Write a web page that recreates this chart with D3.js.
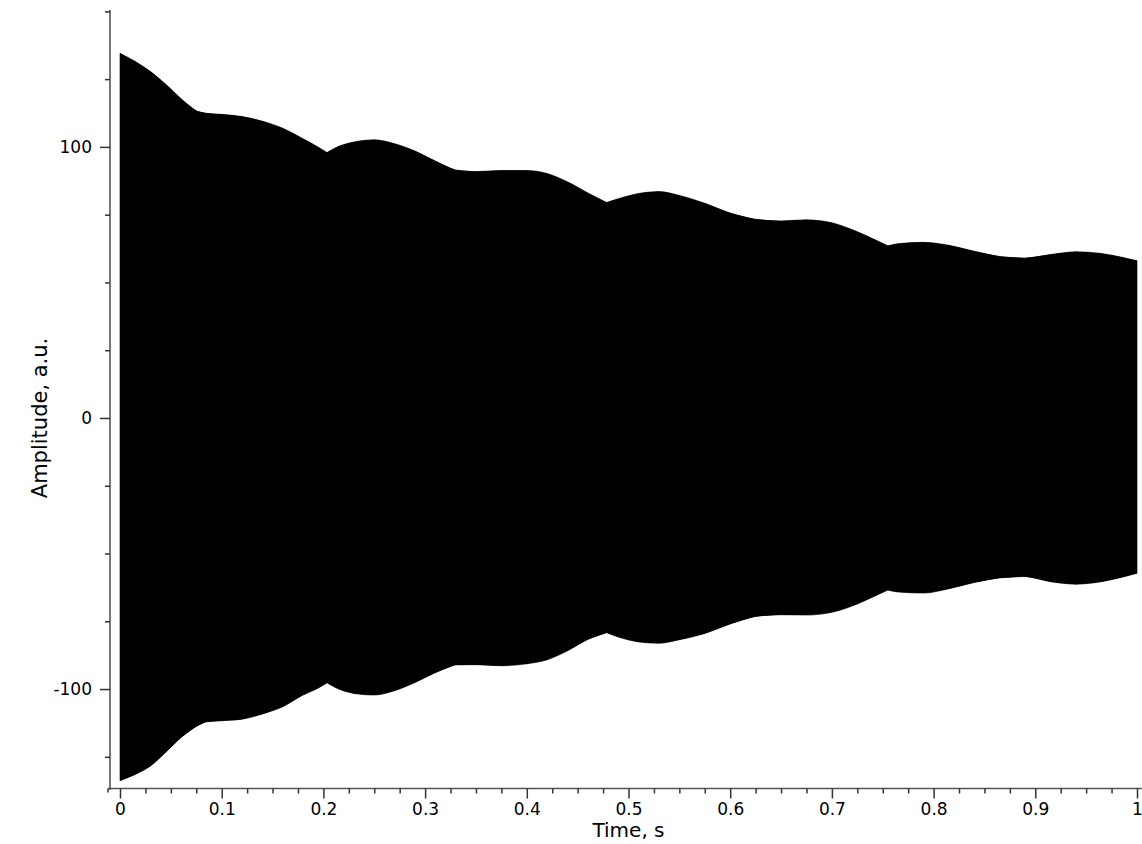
<!DOCTYPE html>
<html>
<head>
<meta charset="utf-8">
<script src="https://cdn.jsdelivr.net/npm/d3@7"></script>
<style>
  html, body { margin: 0; padding: 0; background: #fff; }
  svg { display: block; font-family: "DejaVu Sans", Verdana, sans-serif; }
</style>
</head>
<body>
<svg id="chart" width="1142" height="844"></svg>
<script>
// ---- Data ----
// Time grid (s)
const time = [0, 0.015, 0.03, 0.045, 0.06, 0.075, 0.085, 0.1, 0.12, 0.14, 0.16, 0.18, 0.195, 0.2035,
  0.215, 0.23, 0.25, 0.27, 0.29, 0.31, 0.33, 0.35, 0.375, 0.4, 0.42, 0.44, 0.46, 0.4785, 0.49, 0.51,
  0.53, 0.55, 0.575, 0.6, 0.625, 0.65, 0.675, 0.7, 0.725, 0.745, 0.755, 0.765, 0.79, 0.815, 0.84,
  0.865, 0.89, 0.915, 0.94, 0.965, 0.985, 1.0];
// Upper envelope of the oscillation (a.u.)
const upperEnvelope = [134.5, 131.5, 127.8, 123.1, 117.8, 113.3, 112.4, 112.0, 111.2, 109.5, 106.9, 103.0, 99.9, 97.9,
  100.2, 101.8, 102.6, 101.2, 98.5, 94.8, 91.5, 90.9, 91.3, 91.3, 90.2, 87.1, 83.0, 79.5, 80.9, 82.8,
  83.5, 82.1, 79.2, 75.6, 73.3, 72.7, 73.1, 72.0, 68.7, 65.3, 63.5, 64.3, 64.8, 63.7, 61.5,
  59.6, 59.0, 60.3, 61.3, 60.7, 59.3, 58.0];
// Lower envelope of the oscillation (a.u.)
const lowerEnvelope = [-133.8, -131.5, -128.4, -123.3, -117.9, -113.8, -112.1, -111.7, -111.1, -109.2, -106.5, -102.2, -99.6, -97.7,
  -100.0, -101.6, -102.2, -100.6, -97.6, -94.0, -91.1, -91.0, -91.4, -90.7, -89.2, -85.9, -81.7, -79.2, -80.8, -82.6,
  -83.1, -81.8, -79.5, -76.0, -73.2, -72.6, -72.7, -71.7, -68.6, -65.2, -63.5, -64.2, -64.6, -63.0, -60.7,
  -59.0, -58.5, -60.4, -61.3, -60.4, -58.8, -57.3];
// Times where the envelope has a sharp cusp
const cuspTimes = [0.2035, 0.4785, 0.755];

// Axis ticks
const xMajorTicks = [0, 0.1, 0.2, 0.3, 0.4, 0.5, 0.6, 0.7, 0.8, 0.9, 1];
const xTickLabels = ["0", "0.1", "0.2", "0.3", "0.4", "0.5", "0.6", "0.7", "0.8", "0.9", "1"];
const xMinorTicks = [0.025, 0.05, 0.075, 0.125, 0.15, 0.175, 0.225, 0.25, 0.275, 0.325, 0.35, 0.375,
  0.425, 0.45, 0.475, 0.525, 0.55, 0.575, 0.625, 0.65, 0.675, 0.725, 0.75, 0.775, 0.825, 0.85, 0.875,
  0.925, 0.95, 0.975];
const yMajorTicks = [-100, 0, 100];
const yTickLabels = ["-100", "0", "100"];
const yMinorTicks = [-125, -75, -50, -25, 25, 50, 75, 125, 150];

const xTitle = "Time, s";
const yTitle = "Amplitude, a.u.";

// ---- Layout ----
const svg = d3.select("#chart");
const axisX = 110;      // position of the vertical axis
const axisY = 788.5;    // position of the horizontal axis

const x = d3.scaleLinear().domain([0, 1]).range([120, 1137]);
const y = d3.scaleLinear().domain([-136.5, 150.5]).range([788, 10]);

const data = time.map((t, i) => ({ t, hi: upperEnvelope[i], lo: lowerEnvelope[i] }));

// ---- Signal envelope (filled) ----
const makeArea = curve => d3.area()
  .x(d => x(d.t))
  .y0(d => y(d.lo))
  .y1(d => y(d.hi))
  .curve(curve);
const areaLinear = makeArea(d3.curveLinear);
const areaSmooth = makeArea(d3.curveMonotoneX);

const env = svg.append("g");
// base fill (covers any seams between the smooth segments)
env.append("path")
  .datum(data)
  .attr("d", areaLinear)
  .attr("fill", "#000");
// smooth segments split at the cusps so they stay sharp
const bounds = [time[0], ...cuspTimes, time[time.length - 1]];
const segments = d3.pairs(bounds).map(([a, b]) => data.filter(d => d.t >= a && d.t <= b));
env.selectAll("path.seg")
  .data(segments)
  .join("path")
  .attr("class", "seg")
  .attr("d", areaSmooth)
  .attr("fill", "#000")
  .attr("stroke", "#000")
  .attr("stroke-width", 0.6);

// ---- Axes ----
const tickColor = "#333";
const fontSize = 17;

// Y axis
const gy = svg.append("g").attr("transform", `translate(${axisX},0)`);
gy.append("line")
  .attr("x1", 0).attr("x2", 0)
  .attr("y1", y(150.5)).attr("y2", axisY + 1.5)
  .attr("stroke", "#555").attr("stroke-width", 1.6);
gy.call(g => {
  const ax = d3.axisLeft(y).tickValues(yMajorTicks).tickSize(10).tickPadding(8)
    .tickFormat((d, i) => yTickLabels[i]);
  const sub = g.append("g").call(ax);
  sub.select(".domain").remove();
  sub.selectAll("line").attr("stroke", tickColor).attr("stroke-width", 1.5);
  sub.selectAll("text").attr("font-size", fontSize).attr("fill", "#000")
    .attr("font-family", "DejaVu Sans, Verdana, sans-serif");
  const axm = d3.axisLeft(y).tickValues(yMinorTicks).tickSize(5).tickFormat("");
  const subm = g.append("g").call(axm);
  subm.select(".domain").remove();
  subm.selectAll("line").attr("stroke", tickColor).attr("stroke-width", 1.5);
});

// X axis
const gx = svg.append("g").attr("transform", `translate(0,${axisY})`);
gx.append("line")
  .attr("x1", axisX - 2).attr("x2", 1142)
  .attr("y1", 0).attr("y2", 0)
  .attr("stroke", "#555").attr("stroke-width", 1.6);
gx.append("line")
  .attr("x1", axisX - 2).attr("x2", axisX - 2)
  .attr("y1", 0).attr("y2", 4)
  .attr("stroke", tickColor).attr("stroke-width", 1.5);
gx.call(g => {
  const ax = d3.axisBottom(x).tickValues(xMajorTicks).tickSize(10).tickPadding(4)
    .tickFormat((d, i) => xTickLabels[i]);
  const sub = g.append("g").call(ax);
  sub.select(".domain").remove();
  sub.selectAll("line").attr("stroke", tickColor).attr("stroke-width", 1.5);
  sub.selectAll("text").attr("font-size", fontSize).attr("fill", "#000")
    .attr("font-family", "DejaVu Sans, Verdana, sans-serif");
  const axm = d3.axisBottom(x).tickValues(xMinorTicks).tickSize(5).tickFormat("");
  const subm = g.append("g").call(axm);
  subm.select(".domain").remove();
  subm.selectAll("line").attr("stroke", tickColor).attr("stroke-width", 1.5);
});

// ---- Axis titles ----
svg.append("text")
  .attr("x", (x.range()[0] + x.range()[1]) / 2)
  .attr("y", 837)
  .attr("text-anchor", "middle")
  .attr("font-size", 20)
  .attr("fill", "#000")
  .text(xTitle);

svg.append("text")
  .attr("transform", `translate(47,${y(0)}) rotate(-90)`)
  .attr("text-anchor", "middle")
  .attr("font-size", 21)
  .attr("fill", "#000")
  .text(yTitle);
</script>
</body>
</html>
